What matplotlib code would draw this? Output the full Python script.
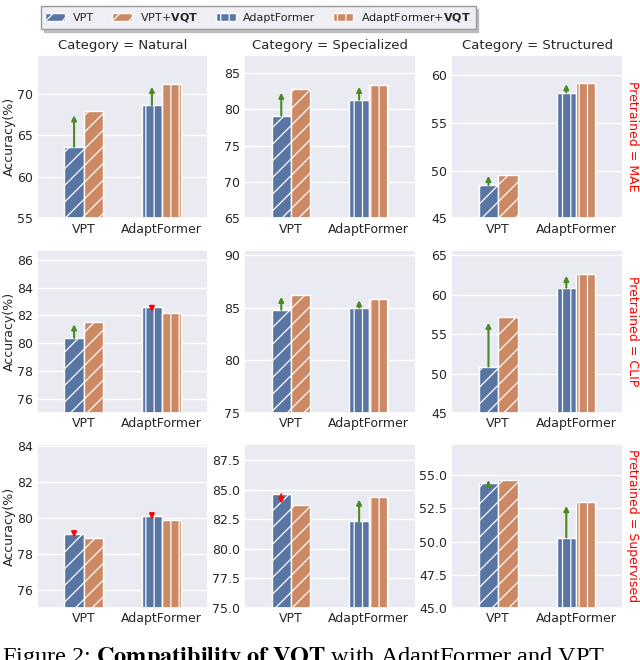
import matplotlib
matplotlib.use('Agg')
import matplotlib.pyplot as plt
from matplotlib.patches import Patch
import seaborn as sns

# dane
categories = ['Natural', 'Specialized', 'Structured']
pretrained = ['MAE', 'CLIP', 'Supervised']
methods = ['VPT', 'AdaptFormer']

vpt = [[63.6, 79.1, 48.5],
       [80.4, 84.8, 50.9],
       [79.1, 84.6, 54.4]]
vpt_vqt = [[67.9, 82.7, 49.6],
           [81.5, 86.2, 57.2],
           [78.9, 83.7, 54.6]]
adapt = [[68.6, 81.3, 58.2],
         [82.6, 85.0, 60.9],
         [80.1, 82.3, 50.3]]
adapt_vqt = [[71.1, 83.3, 59.2],
             [82.2, 85.8, 62.6],
             [79.9, 84.4, 53.0]]

ylim_low = [[55, 65, 45],
            [75, 75, 45],
            [75, 75, 45]]

sns.set_theme(style='darkgrid')
plt.rcParams['font.family'] = ['DejaVu Sans']
plt.rcParams['hatch.linewidth'] = 0.9

blue = '#5875a3'
orange = '#cc8963'
up_col = '#4a8a22'
down_col = 'red'
bw = 0.25

fig, axes = plt.subplots(3, 3, figsize=(6.4, 6.6), dpi=100)
fig.subplots_adjust(left=0.058, right=0.973, top=0.917, bottom=0.079,
                    wspace=0.21, hspace=0.19)

for r in range(3):
    for c in range(3):
        ax = axes[r][c]
        base = [vpt[r][c], adapt[r][c]]
        plus = [vpt_vqt[r][c], adapt_vqt[r][c]]
        hatches = ['//', '||']
        for i in range(2):
            ax.bar(i - bw / 2, base[i], width=bw, color=blue, edgecolor='white',
                   linewidth=1.0, hatch=hatches[i], zorder=2)
            ax.bar(i + bw / 2, plus[i], width=bw, color=orange, edgecolor='white',
                   linewidth=1.0, hatch=hatches[i], zorder=2)
            diff = plus[i] - base[i]
            col = up_col if diff > 0 else down_col
            ax.annotate('', xy=(i - bw / 2, base[i] + 0.88 * diff),
                        xytext=(i - bw / 2, base[i]),
                        arrowprops=dict(arrowstyle='-|>', color=col, lw=1.5,
                                        mutation_scale=7, shrinkA=0, shrinkB=0),
                        zorder=4)
        top = max(base + plus) * 1.05
        ax.set_ylim(ylim_low[r][c], top)
        ax.set_xlim(-0.6, 1.6)
        ax.set_xticks([0, 1])
        ax.set_xticklabels(methods)
        ax.xaxis.grid(False)
        ax.tick_params(labelsize=9, colors='0.15', pad=3, length=0)
        if c == 0:
            ax.set_ylabel('Accuracy(%)', fontsize=9, color='0.15', labelpad=1)
        if r == 0:
            ax.set_title('Category = ' + categories[c], fontsize=9.5,
                         color='0.15', pad=4)
        if c == 2:
            ax.text(1.02, 0.5, 'Pretrained = ' + pretrained[r], color='red',
                    fontsize=9, rotation=270, ha='left', va='center',
                    transform=ax.transAxes)

handles = [Patch(facecolor=blue, edgecolor='white', hatch='//'),
           Patch(facecolor=orange, edgecolor='white', hatch='//'),
           Patch(facecolor=blue, edgecolor='white', hatch='||'),
           Patch(facecolor=orange, edgecolor='white', hatch='||')]
labels = ['VPT', r'VPT+$\mathbf{VQT}$', 'AdaptFormer', r'AdaptFormer+$\mathbf{VQT}$']
leg = fig.legend(handles, labels, loc='upper left', bbox_to_anchor=(0.055, 0.999),
                 ncol=4, fontsize=8, frameon=True,
                 shadow={'color': '0.7', 'alpha': 0.8}, fancybox=False,
                 handlelength=1.8, columnspacing=1.6, borderpad=0.4,
                 handletextpad=0.7)
leg.get_frame().set_facecolor('#eeeef4')
leg.get_frame().set_edgecolor('0.6')

fig.text(0.003, -0.004,
         r'Figure 2: $\mathbf{Compatibility\ of\ VQT}$ with AdaptFormer and VPT.',
         fontsize=17.5, family='Liberation Serif', math_fontfamily='stix',
         ha='left', va='baseline', color='black')

plt.savefig('out.png', dpi=100)
plt.close()
